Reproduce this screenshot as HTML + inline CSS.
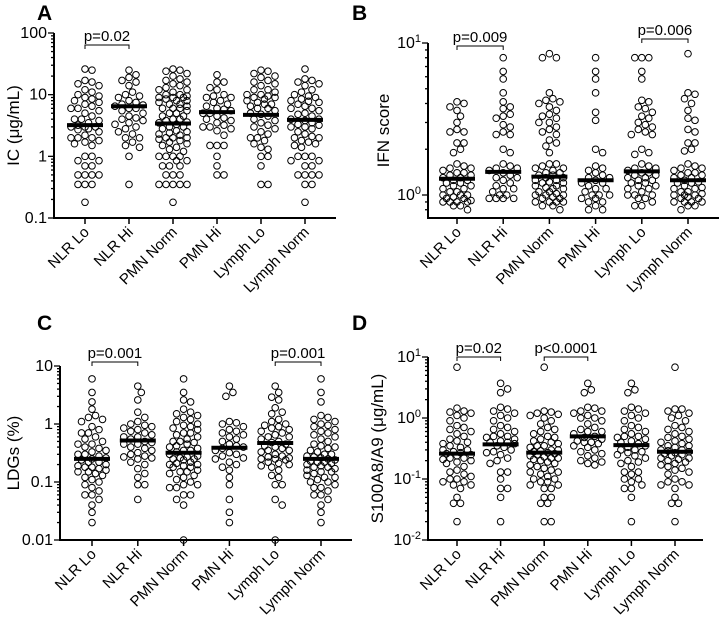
<!DOCTYPE html>
<html><head><meta charset="utf-8"><style>
body{margin:0;background:#fff}
svg{display:block;font-family:"Liberation Sans",Arial,sans-serif}
</style></head><body>
<svg id="fig" width="720" height="624" viewBox="0 0 720 624"></svg>
<script>
const groups = ["NLR Lo","NLR Hi","PMN Norm","PMN Hi","Lymph Lo","Lymph Norm"];
// Panel A: IC (µg/mL)
const icLo=[25,26,16,15,14,17,10,9,8,7,7.5,6,6,6.5,9.5,12,11,5,4,4.5,3.5,3.8,3.2,3,3,2.5,2.8,2.2,2,2,1.8,1.7,1.5,2,1,1,0.85,0.85,0.7,0.7,0.5,0.5,0.5,0.5,0.35,0.35,0.35,0.18,4,5.5,8.5,3,2.7,1.6];
const icHi=[21,19,25,17,16,14,10,9,9.5,8,7.5,7,6.5,6,6,5,4.5,4.2,4,3.5,3.3,3,2.8,2.5,2.3,2,2,1.7,1.5,1.4,1,0.35,11,5.5,6.8,3.8];
const icPmnN=[26,25,24,22,20,18,17,16,15,14,13,12,11,10,10,9.5,9,9,8.5,8,8,7.5,7,7,6.5,6,6,5.5,5,5,4.5,4.5,4,4,3.8,3.5,3.3,3,3,2.8,2.6,2.5,2.3,2.2,2,2,2,1.9,1.8,1.7,1.6,1.5,1.4,1.3,1,1,1,1,0.85,0.85,0.7,0.7,0.7,0.5,0.5,0.5,0.35,0.35,0.35,0.35,0.35,0.18,12,9,6,3.6,2.4,1.2];
const icPmnH=[21,16,16,13,12,10,9.5,9,9,8,7,6.5,6,5.5,5,5,4.5,4.2,4,3.8,3.5,3.2,3,3,2.8,2.6,2.2,1.5,1.5,1.5,1,0.7,0.5,0.5,5.8,7.5];
const icLyL=[25,24,22,20,19,17,16,15,14,12,11,10,10,9.5,9,8.5,8,7.5,7,6.5,6,6,5.5,5,4.8,4.5,4,3.8,3.5,3.2,3,2.8,2.5,2.3,2,2,1.8,1.6,1.4,1.3,1,1,0.7,0.35,0.35,12,9,7];
const icLyN=[26,18,17,16,15,14,12,10,9.5,9,8.5,8,7.5,7,6.5,6,6,5.5,5,4.8,4.5,4,4,3.8,3.5,3.3,3,3,2.8,2.5,2.3,2,2,1.8,1.7,1.6,1.5,1.4,1,1,1,0.85,0.85,0.7,0.7,0.5,0.5,0.5,0.5,0.35,0.35,0.18,11,7.8,3.2,2.1];
const icMed=[3.2,6.5,3.4,5.2,4.7,3.9];
// Panel B: IFN score
const ifnLo=[4.1,4,3.8,3.6,3.3,3,2.7,2.6,2.6,2.2,2.2,1.9,2,1.6,1.55,1.5,1.45,1.4,1.4,1.35,1.3,1.3,1.25,1.2,1.2,1.15,1.1,1.1,1.05,1,1,1,0.95,0.95,0.9,0.9,0.9,0.9,0.85,0.85,0.8,1.5,1.35,1.25,1.15,1.05,0.97,0.92];
const ifnHi=[8,6.5,5.8,4.7,4.1,3.8,3.7,3.4,3.3,3.2,2.9,2.8,2.5,2.5,2.6,2,1.9,1.6,1.55,1.5,1.45,1.4,1.35,1.3,1.25,1.2,1.15,1.1,1.05,1,1,0.95,0.95,0.95,0.95,1.5,1.3,1.1];
const ifnPmnN=[8.5,8,8,4.7,4.3,4.2,4.1,4,3.8,3.6,3.4,3.3,3.2,3,3,2.8,2.7,2.6,2.5,2.3,2.2,2.1,1.9,1.6,1.55,1.5,1.5,1.45,1.4,1.4,1.35,1.3,1.3,1.25,1.25,1.2,1.2,1.15,1.15,1.1,1.1,1.05,1.05,1,1,1,0.95,0.95,0.9,0.9,0.9,0.9,0.85,0.85,0.8,1.6,1.35,1.22,1.12,1.02,0.97];
const ifnPmnH=[8,6.5,5.8,4.7,3.5,3.1,2,1.9,1.55,1.5,1.45,1.4,1.35,1.3,1.25,1.2,1.15,1.1,1.05,1,1,1,0.95,0.95,0.9,0.9,0.85,0.8,0.8,1.3,1.2,1.1];
const ifnLyL=[8,8,8,6.5,5.8,4.2,4.1,3.8,3.7,3.5,3.3,3.2,3,2.9,2.8,2.7,2.6,2.5,2.5,2,1.9,1.85,1.6,1.55,1.5,1.45,1.4,1.4,1.35,1.3,1.3,1.25,1.2,1.2,1.15,1.1,1.1,1.05,1,1,1,0.95,0.95,0.9,0.85,0.85,1.5,1.35,1.25,1.15];
const ifnLyN=[8.5,4.7,4.6,4.3,4,3.6,3.2,3.1,2.7,2.6,2.2,2.2,1.95,2,1.6,1.55,1.5,1.45,1.4,1.4,1.35,1.3,1.3,1.25,1.2,1.2,1.15,1.1,1.1,1.05,1.05,1,1,1,0.95,0.95,0.9,0.9,0.9,0.9,0.85,0.85,0.8,1.5,1.35,1.22,1.12,1.02,0.97];
const ifnMed=[1.28,1.42,1.32,1.25,1.43,1.25];
// Panel C: LDGs (%)
const ldgLo=[6,3.5,2.4,1.8,1.4,1.3,1.2,1.1,0.9,0.8,0.7,0.7,0.6,0.55,0.5,0.45,0.4,0.38,0.35,0.33,0.3,0.28,0.26,0.25,0.24,0.22,0.2,0.19,0.18,0.17,0.16,0.15,0.14,0.13,0.12,0.11,0.1,0.09,0.08,0.07,0.06,0.06,0.05,0.04,0.03,0.02,0.3,0.22,0.18,0.15,0.45];
const ldgHi=[4.5,3.5,2.6,1.6,1.3,1.1,1,0.95,0.9,0.85,0.8,0.75,0.7,0.65,0.6,0.55,0.5,0.48,0.45,0.4,0.38,0.35,0.3,0.28,0.27,0.26,0.25,0.22,0.2,0.17,0.14,0.12,0.09,0.09,0.05,0.6,0.45,0.32];
const ldgPmnN=[6,3.5,2.6,2.4,1.8,1.6,1.5,1.4,1.3,1.2,1.1,1,0.95,0.9,0.85,0.8,0.7,0.65,0.6,0.55,0.5,0.48,0.45,0.42,0.4,0.38,0.35,0.33,0.3,0.28,0.27,0.26,0.25,0.24,0.22,0.21,0.2,0.19,0.18,0.16,0.15,0.14,0.13,0.12,0.11,0.1,0.09,0.09,0.08,0.08,0.06,0.06,0.05,0.04,0.01,0.7,0.5,0.35,0.25,0.2,0.18,0.15];
const ldgPmnH=[4.5,3.5,3,1.1,1.05,1,0.9,0.8,0.75,0.7,0.65,0.6,0.55,0.5,0.45,0.42,0.4,0.38,0.35,0.32,0.3,0.28,0.26,0.25,0.22,0.2,0.18,0.16,0.12,0.09,0.05,0.03,0.02];
const ldgLyL=[4.5,3.5,2.9,2.6,1.9,1.6,1.5,1.2,1.1,1,0.95,0.9,0.85,0.8,0.75,0.7,0.65,0.6,0.55,0.5,0.48,0.45,0.42,0.4,0.38,0.35,0.33,0.3,0.28,0.27,0.26,0.25,0.24,0.22,0.21,0.2,0.19,0.18,0.16,0.13,0.12,0.09,0.09,0.05,0.04,0.01,0.6,0.35,0.25];
const ldgLyN=[6,3.5,2.4,1.4,1.3,1.2,1.1,1,0.95,0.9,0.8,0.75,0.7,0.65,0.6,0.55,0.5,0.45,0.42,0.4,0.38,0.35,0.33,0.3,0.28,0.27,0.26,0.25,0.24,0.23,0.22,0.21,0.2,0.19,0.18,0.17,0.16,0.15,0.14,0.13,0.12,0.11,0.1,0.1,0.09,0.08,0.08,0.07,0.06,0.06,0.05,0.04,0.03,0.02,0.3,0.22,0.18,0.15,0.12];
const ldgMed=[0.25,0.52,0.32,0.39,0.47,0.25];
// Panel D: S100A8/A9 (µg/mL)
const s1Lo=[6.8,1.45,1.3,1.25,1.2,1.1,1,0.9,0.75,0.7,0.65,0.6,0.55,0.5,0.45,0.42,0.4,0.38,0.35,0.33,0.3,0.28,0.27,0.26,0.25,0.24,0.22,0.21,0.2,0.19,0.18,0.16,0.14,0.13,0.12,0.11,0.1,0.1,0.09,0.09,0.08,0.08,0.07,0.05,0.04,0.04,0.02,0.3,0.22];
const s1Hi=[3.7,3,2.6,1.5,1.4,1.3,1.2,1.1,1,0.9,0.75,0.7,0.65,0.6,0.55,0.5,0.48,0.45,0.42,0.4,0.38,0.35,0.33,0.3,0.28,0.27,0.25,0.22,0.2,0.18,0.13,0.13,0.1,0.07,0.07,0.05,0.02,0.5,0.4];
const s1PmnN=[6.8,1.3,1.25,1.2,1.15,1.1,1,0.9,0.8,0.7,0.65,0.6,0.55,0.5,0.48,0.45,0.42,0.4,0.38,0.35,0.33,0.3,0.29,0.28,0.27,0.26,0.25,0.24,0.23,0.22,0.21,0.2,0.19,0.18,0.17,0.16,0.15,0.14,0.13,0.13,0.12,0.11,0.1,0.1,0.09,0.09,0.08,0.08,0.07,0.07,0.05,0.05,0.04,0.04,0.02,0.02,0.35,0.3,0.22];
const s1PmnH=[3.7,2.9,2.6,1.5,1.45,1.3,1.3,1.2,1.1,1,1,0.9,0.8,0.7,0.65,0.6,0.55,0.5,0.48,0.45,0.42,0.4,0.38,0.35,0.33,0.3,0.28,0.26,0.24,0.22,0.2,0.19,0.18,0.17,0.6,0.4];
const s1LyL=[3.7,2.9,2.6,1.5,1.4,1.3,1.2,1.1,1,0.9,0.75,0.7,0.65,0.6,0.55,0.5,0.48,0.45,0.42,0.4,0.38,0.35,0.33,0.3,0.28,0.27,0.25,0.24,0.22,0.2,0.19,0.18,0.16,0.13,0.13,0.12,0.1,0.1,0.09,0.08,0.07,0.07,0.05,0.02,0.5,0.3];
const s1LyN=[6.8,1.4,1.4,1.3,1.2,1.1,1,0.9,0.75,0.7,0.65,0.6,0.55,0.5,0.48,0.45,0.42,0.4,0.38,0.35,0.33,0.3,0.29,0.28,0.27,0.26,0.25,0.24,0.22,0.21,0.2,0.19,0.18,0.17,0.16,0.15,0.14,0.13,0.12,0.1,0.09,0.09,0.08,0.08,0.07,0.05,0.04,0.04,0.02,0.35,0.3,0.22];
const s1Med=[0.26,0.37,0.27,0.5,0.36,0.28];

const NS="http://www.w3.org/2000/svg";
const svg=document.getElementById('fig');
function mk(tag,attrs,parent,txt){const e=document.createElementNS(NS,tag);for(const k in attrs)e.setAttribute(k,attrs[k]);if(txt!==undefined)e.textContent=txt;(parent||svg).appendChild(e);return e;}

function panel(p){
  const g=mk('g',{});
  
  
  const ppd=(p.yDecBot-p.yDecTop)/(Math.log10(p.decTop)-Math.log10(p.decBot));
  const yS=v=>p.yDecBot-(Math.log10(v)-Math.log10(p.decBot))*ppd;
  const xS=i=>p.gx0+i*p.gdx;
  const yMinPx=yS(p.min);
  const L=mk('text',{x:p.lx,y:p.ly,'font-size':21,'font-weight':'bold'},g,p.letter);
  
  
  const r=3.3,d=7,maxOff=17;
  p.series.forEach((vals,i)=>{
    const cx=xS(i);
    const sorted=vals.slice().sort((a,b)=>b-a);
    const placed=[];
    sorted.forEach(v=>{
      const y=yS(v);
      let off=null,best=-1,bestOff=0;
      for(let k=0;k<60;k++){
        const cand=k===0?0:(k%2?1:-1)*Math.ceil(k/2)*d/2;
        if(Math.abs(cand)>maxOff)break;
        const md=placed.reduce((m,q)=>Math.min(m,Math.hypot(q[0]-cand,q[1]-y)),1e9);
        if(md>=d*0.95){off=cand;break;}
        if(md>best){best=md;bestOff=cand;}
      }
      if(off===null)off=bestOff;
      placed.push([off,y]);
      const c=mk('circle',{cx:cx+off,cy:y,r:r,fill:'none',stroke:'#000','stroke-width':1},g);
      
      
    });
    const m=mk('line',{x1:cx-18,x2:cx+18,y1:yS(p.med[i]),y2:yS(p.med[i]),stroke:'#000','stroke-width':4},g);
    
    
  });
  const ya=mk('line',{x1:p.ax,x2:p.ax,y1:p.yDecTop,y2:yMinPx,stroke:'#000','stroke-width':2},g);
  
  
  const xa=mk('line',{x1:p.ax-1,x2:p.axEnd,y1:yMinPx,y2:yMinPx,stroke:'#000','stroke-width':2},g);
  
  
  for(let e=Math.floor(Math.log10(p.min));e<=Math.log10(p.decTop);e++){
    for(let m=1;m<10;m++){
      const v=m*Math.pow(10,e);
      if(v<p.min-1e-9||v>p.decTop+1e-9)continue;
      const y=yS(v);
      mk('line',{x1:p.ax-(m===1?6:3),x2:p.ax,y1:y,y2:y,stroke:'#000','stroke-width':1.3},g);
    }
  }
  p.ticks.forEach((t,k)=>{
    const y=yS(p.tickVals[k]);
    const tx=mk('text',{x:p.ax-7,y:y+5,'font-size':16,'text-anchor':'end'},g);
    
    
    if(p.sup){
      mk('tspan',{},tx,'10');
      mk('tspan',{'font-size':11,dy:-6},tx,t);
    } else tx.textContent=t;
  });
  const yt=mk('text',{x:0,y:0,'font-size':17,'text-anchor':'middle',transform:`translate(${p.ytx},${(p.yDecTop+yMinPx)/2}) rotate(-90)`},g,p.ytitle);
  
  
  groups.forEach((nm,i)=>{
    const x=xS(i);
    mk('line',{x1:x,x2:x,y1:yMinPx,y2:yMinPx+6,stroke:'#000','stroke-width':1.5},g);
    const t=mk('text',{x:0,y:0,'font-size':15,'text-anchor':'end',transform:`translate(${x+5},${yMinPx+15}) rotate(-45)`},g,nm);
    
    
  });
  p.brackets.forEach(b=>{
    const x1=xS(b[0]),x2=xS(b[1]),y=b[3];
    const pth=mk('path',{d:`M${x1},${y+4}V${y}H${x2}V${y+4}`,fill:'none',stroke:'#000','stroke-width':1},g);
    
    
    const t=mk('text',{x:(x1+x2)/2,y:y-4,'font-size':15,'text-anchor':'middle'},g,b[2]);
    
    
  });
}

panel({letter:'A',lx:37,ly:20,series:[icLo,icHi,icPmnN,icPmnH,icLyL,icLyN],med:icMed,
  decTop:100,decBot:0.1,yDecTop:33,yDecBot:218,min:0.1,ax:54,axEnd:336,gx0:85,gdx:44,
  ticks:['100','10','1','0.1'],tickVals:[100,10,1,0.1],sup:false,ytitle:'IC (μg/mL)',ytx:19,
  brackets:[[0,1,'p=0.02',45]]});
panel({letter:'B',lx:352,ly:20,series:[ifnLo,ifnHi,ifnPmnN,ifnPmnH,ifnLyL,ifnLyN],med:ifnMed,
  decTop:10,decBot:1,yDecTop:43,yDecBot:195,min:0.706,ax:428,axEnd:719,gx0:457,gdx:46.2,
  ticks:['1','0'],tickVals:[10,1],sup:true,ytitle:'IFN score',ytx:389,
  brackets:[[0,1,'p=0.009',46],[4,5,'p=0.006',39]]});
panel({letter:'C',lx:37,ly:330,series:[ldgLo,ldgHi,ldgPmnN,ldgPmnH,ldgLyL,ldgLyN],med:ldgMed,
  decTop:10,decBot:0.01,yDecTop:366,yDecBot:540,min:0.01,ax:60,axEnd:352,gx0:92,gdx:45.8,
  ticks:['10','1','0.1','0.01'],tickVals:[10,1,0.1,0.01],sup:false,ytitle:'LDGs (%)',ytx:19,
  brackets:[[0,1,'p=0.001',362],[4,5,'p=0.001',362]]});
panel({letter:'D',lx:352,ly:330,series:[s1Lo,s1Hi,s1PmnN,s1PmnH,s1LyL,s1LyN],med:s1Med,
  decTop:10,decBot:0.01,yDecTop:357,yDecBot:540,min:0.01,ax:428,axEnd:703,gx0:457,gdx:43.6,
  ticks:['1','0','-1','-2'],tickVals:[10,1,0.1,0.01],sup:true,ytitle:'S100A8/A9 (μg/mL)',ytx:383,
  brackets:[[0,1,'p=0.02',357],[2,3,'p<0.0001',357]]});
</script>
</body></html>
